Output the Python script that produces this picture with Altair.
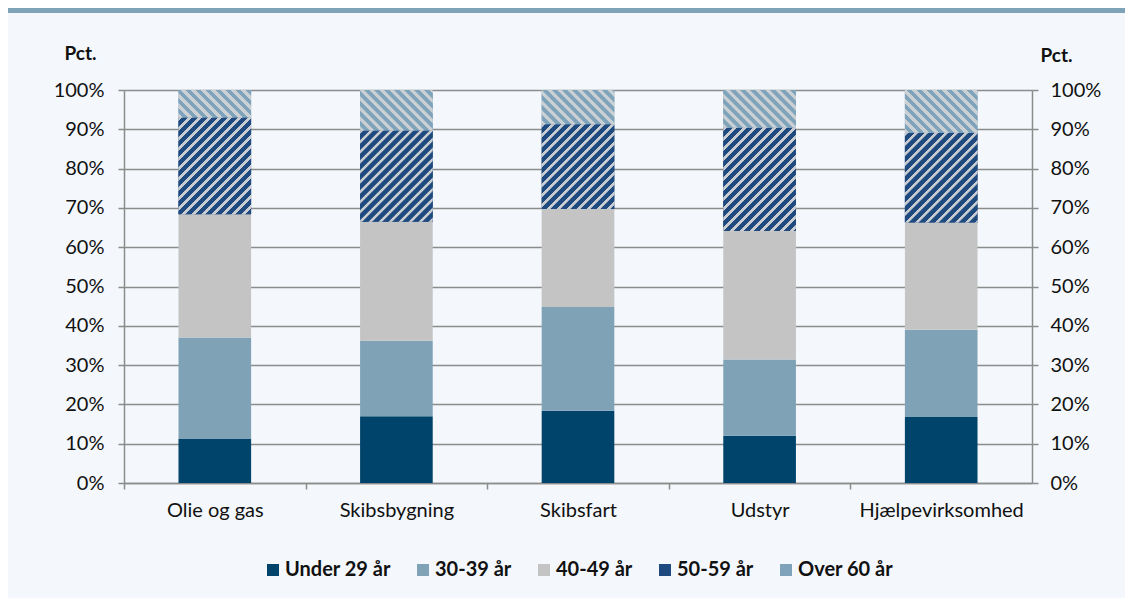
import altair as alt
import pandas as pd

# ---- data ----
categories = ["Olie og gas", "Skibsbygning", "Skibsfart", "Udstyr", "Hjælpevirksomhed"]
groups = ["Under 29 år", "30-39 år", "40-49 år", "50-59 år", "Over 60 år"]
under29 = [11.2, 17.0, 18.4, 12.0, 16.8]
age30_39 = [25.8, 19.2, 26.4, 19.4, 22.2]
age40_49 = [31.4, 30.3, 24.9, 32.7, 27.3]
age50_59 = [24.6, 23.2, 21.6, 26.3, 22.8]
over60 = [7.0, 10.3, 8.7, 9.6, 10.9]
y_ticks = [0, 10, 20, 30, 40, 50, 60, 70, 80, 90, 100]

series = [under29, age30_39, age40_49, age50_59, over60]
colors = ["#00446b", "#7fa2b7", "#c4c4c4", "#1f4a80", "#7fa3bb"]

# ---- layout ----
W, H = 908, 393
PAD = {"left": 116, "top": 82, "right": 93, "bottom": 115}
STEP = W / len(categories)
BAND_W = 0.4 * STEP

rows = []
for ci, cat in enumerate(categories):
    cum = 0.0
    for gi, grp in enumerate(groups):
        v = series[gi][ci]
        rows.append({"category": cat, "group": grp, "order": gi,
                     "value": v, "start": cum, "end": cum + v})
        cum += v
df = pd.DataFrame(rows)


def hatch(w, h, base, light, period=10.0, lw=3.0, direction="/"):
    s = (w + h) / (w * w + h * h)
    if direction == "/":
        x1, y1, x2, y2 = 0, 0, s * w, s * h
    else:
        x1, y1, x2, y2 = 0, 1, s * w, 1 - s * h
    D = w + h
    r = 0.7
    stops = []
    k = 0
    while k * period <= D:
        t0 = k * period
        for off, col in [(t0, light), (t0 + lw, light),
                         (t0 + lw + r, base), (t0 + period - r, base)]:
            o = min(off / D, 1.0)
            stops.append({"offset": round(o, 5), "color": col})
        k += 1
    return {"gradient": "linear", "x1": x1, "y1": y1, "x2": x2, "y2": y2,
            "stops": stops}


FONT = "Lato"
GRAY = "#8c8c8c"
LBL = 20

x_axis = alt.Axis(title=None, labelAngle=0, tickSize=6,
                  tickOffset=-STEP / 2, labelOffset=STEP / 2,
                  labelPadding=11, domainColor=GRAY, tickColor=GRAY,
                  domainWidth=1.5, tickWidth=1.5, grid=False,
                  labelFont=FONT, labelFontSize=LBL, labelColor="#111")
x_enc = alt.X("category:N", sort=categories,
              scale=alt.Scale(paddingInner=0.6, paddingOuter=0.3), axis=x_axis)
yscale = alt.Scale(domain=[0, 100], nice=False)

common = dict(values=y_ticks, labelExpr="datum.value + '%'", tickSize=6,
              domainColor=GRAY, tickColor=GRAY, domainWidth=1.5, tickWidth=1.5,
              title="Pct.", titleAngle=0, titleAlign="center",
              titleBaseline="middle", titleFont=FONT, titleFontWeight="bold",
              titleFontSize=19, titleColor="#111", labelFont=FONT,
              labelFontSize=LBL, labelColor="#111")
left_axis = alt.Axis(orient="left", labelPadding=14, grid=True, gridColor=GRAY,
                     gridWidth=1.5, titleX=-44, titleY=-37, **common)
right_axis = alt.Axis(orient="right", labelPadding=12, grid=False,
                      titleX=24, titleY=-35, **common)

base = alt.Chart(df).mark_bar().encode(
    x=x_enc,
    y=alt.Y("start:Q", scale=yscale, axis=left_axis),
    y2="end:Q",
    color=alt.Color("group:N", scale=alt.Scale(domain=groups, range=colors),
                    legend=alt.Legend(orient="none", legendX=139, legendY=470,
                                      direction="horizontal", columns=5, title=None,
                                      symbolType="square", symbolSize=144,
                                      symbolStrokeWidth=0, labelFont=FONT,
                                      labelFontSize=LBL, labelFontWeight="bold",
                                      labelColor="#111", columnPadding=22,
                                      labelOffset=2, padding=0)),
    order=alt.Order("order:Q"),
)

layers = [base]
for ci, cat in enumerate(categories):
    for gi, direction, light, lw in [(3, "/", "#c9cdd2", 3.0), (4, "\\", "#cbd0d4", 4.0)]:
        v = series[gi][ci]
        grad = hatch(BAND_W, v / 100 * H, colors[gi], light, 10.0, lw, direction)
        layers.append(
            alt.Chart(df)
            .transform_filter((alt.datum.category == cat) & (alt.datum.group == groups[gi]))
            .mark_bar(fill=grad)
            .encode(x=x_enc, y=alt.Y("start:Q", scale=yscale, axis=None), y2="end:Q")
        )

right = alt.Chart(df).mark_point(opacity=0).encode(
    y=alt.Y("end:Q", scale=yscale, axis=right_axis))
layers.append(right)

band = alt.Chart(pd.DataFrame({"a": [0]})).mark_rect(color="#7fa3b8").encode(
    x=alt.value(-PAD["left"]), x2=alt.value(W + PAD["right"]),
    y=alt.value(-PAD["top"]), y2=alt.value(-PAD["top"] + 5))
layers.append(band)

chart = (
    alt.layer(*layers)
    .resolve_axis(y="independent")
    .properties(width=W, height=H, padding=PAD,
                autosize=alt.AutoSizeParams(type="none"),
                background="#f4f8fc")
    .configure_view(fill="white", stroke=None)
    .configure(font=FONT)
)

chart.save("out.html", embed_options={"renderer": "svg", "actions": False})
